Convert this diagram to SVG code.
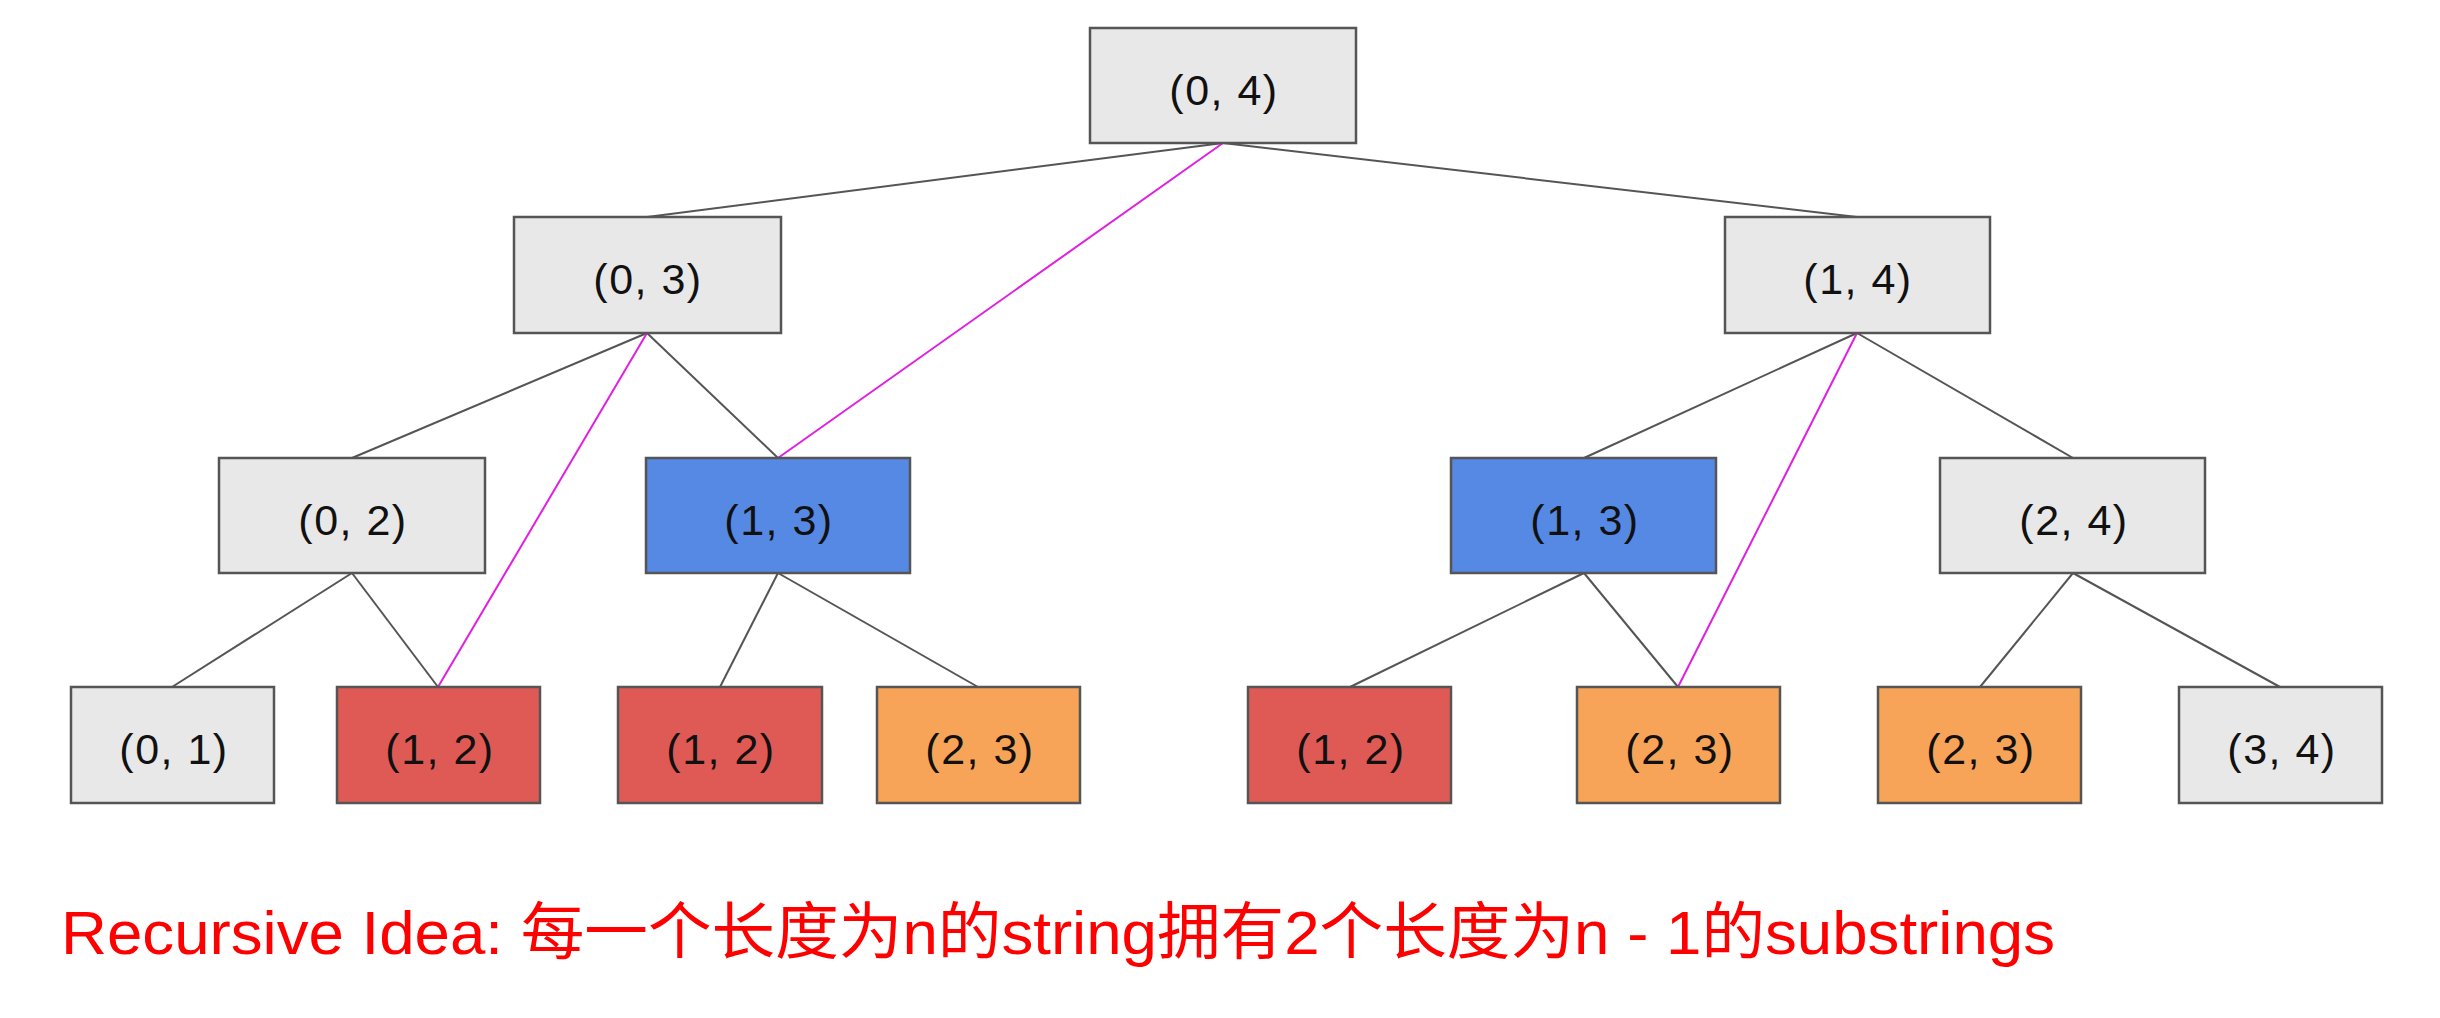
<svg xmlns="http://www.w3.org/2000/svg" width="2440" height="1018" viewBox="0 0 2440 1018">
<style>
.box{stroke:#555;stroke-width:2.5}
.g{fill:#e8e8e8}
.b{fill:#5689e3}
.r{fill:#e05a55}
.o{fill:#f8a458}
.lbl{font-family:"Liberation Sans",Arial,sans-serif;font-size:43px;fill:#111;text-anchor:middle;letter-spacing:1.5px}
.e{stroke:#555;stroke-width:2;fill:none}
.m{stroke:#e020e0;stroke-width:2;fill:none}
.cap{font-family:"Liberation Sans","Noto Sans CJK SC",sans-serif;font-size:62px;fill:#f00}
</style>
<rect width="2440" height="1018" fill="#fff"/>
<g id="connectors">
<line class="e" x1="1223" y1="143" x2="647" y2="217"/>
<line class="e" x1="1223" y1="143" x2="1857" y2="217"/>
<line class="e" x1="647" y1="333" x2="352" y2="458"/>
<line class="e" x1="647" y1="333" x2="778" y2="458"/>
<line class="e" x1="1857" y1="333" x2="1584" y2="458"/>
<line class="e" x1="1857" y1="333" x2="2073" y2="458"/>
<line class="e" x1="352" y1="573" x2="172" y2="687"/>
<line class="e" x1="352" y1="573" x2="438" y2="687"/>
<line class="e" x1="778" y1="573" x2="720" y2="687"/>
<line class="e" x1="778" y1="573" x2="978" y2="687"/>
<line class="e" x1="1584" y1="573" x2="1350" y2="687"/>
<line class="e" x1="1584" y1="573" x2="1678" y2="687"/>
<line class="e" x1="2073" y1="573" x2="1980" y2="687"/>
<line class="e" x1="2073" y1="573" x2="2280" y2="687"/>
<line class="m" x1="1223" y1="143" x2="778" y2="458"/>
<line class="m" x1="647" y1="333" x2="438" y2="687"/>
<line class="m" x1="1857" y1="333" x2="1678" y2="687"/>
</g>
<g id="n04"><rect class="box g" x="1090" y="28" width="266" height="115"/><text class="lbl" x="1224" y="105">(0, 4)</text></g>
<g id="n03"><rect class="box g" x="514" y="217" width="267" height="116"/><text class="lbl" x="648" y="294">(0, 3)</text></g>
<g id="n14"><rect class="box g" x="1725" y="217" width="265" height="116"/><text class="lbl" x="1858" y="294">(1, 4)</text></g>
<g id="n02"><rect class="box g" x="219" y="458" width="266" height="115"/><text class="lbl" x="353" y="535">(0, 2)</text></g>
<g id="n13a"><rect class="box b" x="646" y="458" width="264" height="115"/><text class="lbl" x="779" y="535">(1, 3)</text></g>
<g id="n13b"><rect class="box b" x="1451" y="458" width="265" height="115"/><text class="lbl" x="1585" y="535">(1, 3)</text></g>
<g id="n24"><rect class="box g" x="1940" y="458" width="265" height="115"/><text class="lbl" x="2074" y="535">(2, 4)</text></g>
<g id="n01"><rect class="box g" x="71" y="687" width="203" height="116"/><text class="lbl" x="174" y="764">(0, 1)</text></g>
<g id="n12a"><rect class="box r" x="337" y="687" width="203" height="116"/><text class="lbl" x="440" y="764">(1, 2)</text></g>
<g id="n12b"><rect class="box r" x="618" y="687" width="204" height="116"/><text class="lbl" x="721" y="764">(1, 2)</text></g>
<g id="n23a"><rect class="box o" x="877" y="687" width="203" height="116"/><text class="lbl" x="980" y="764">(2, 3)</text></g>
<g id="n12c"><rect class="box r" x="1248" y="687" width="203" height="116"/><text class="lbl" x="1351" y="764">(1, 2)</text></g>
<g id="n23b"><rect class="box o" x="1577" y="687" width="203" height="116"/><text class="lbl" x="1680" y="764">(2, 3)</text></g>
<g id="n23c"><rect class="box o" x="1878" y="687" width="203" height="116"/><text class="lbl" x="1981" y="764">(2, 3)</text></g>
<g id="n34"><rect class="box g" x="2179" y="687" width="203" height="116"/><text class="lbl" x="2282" y="764">(3, 4)</text></g>
<text class="cap" x="61" y="954" textLength="1994" lengthAdjust="spacingAndGlyphs">Recursive Idea: 每一个长度为n的string拥有2个长度为n - 1的substrings</text>
</svg>
